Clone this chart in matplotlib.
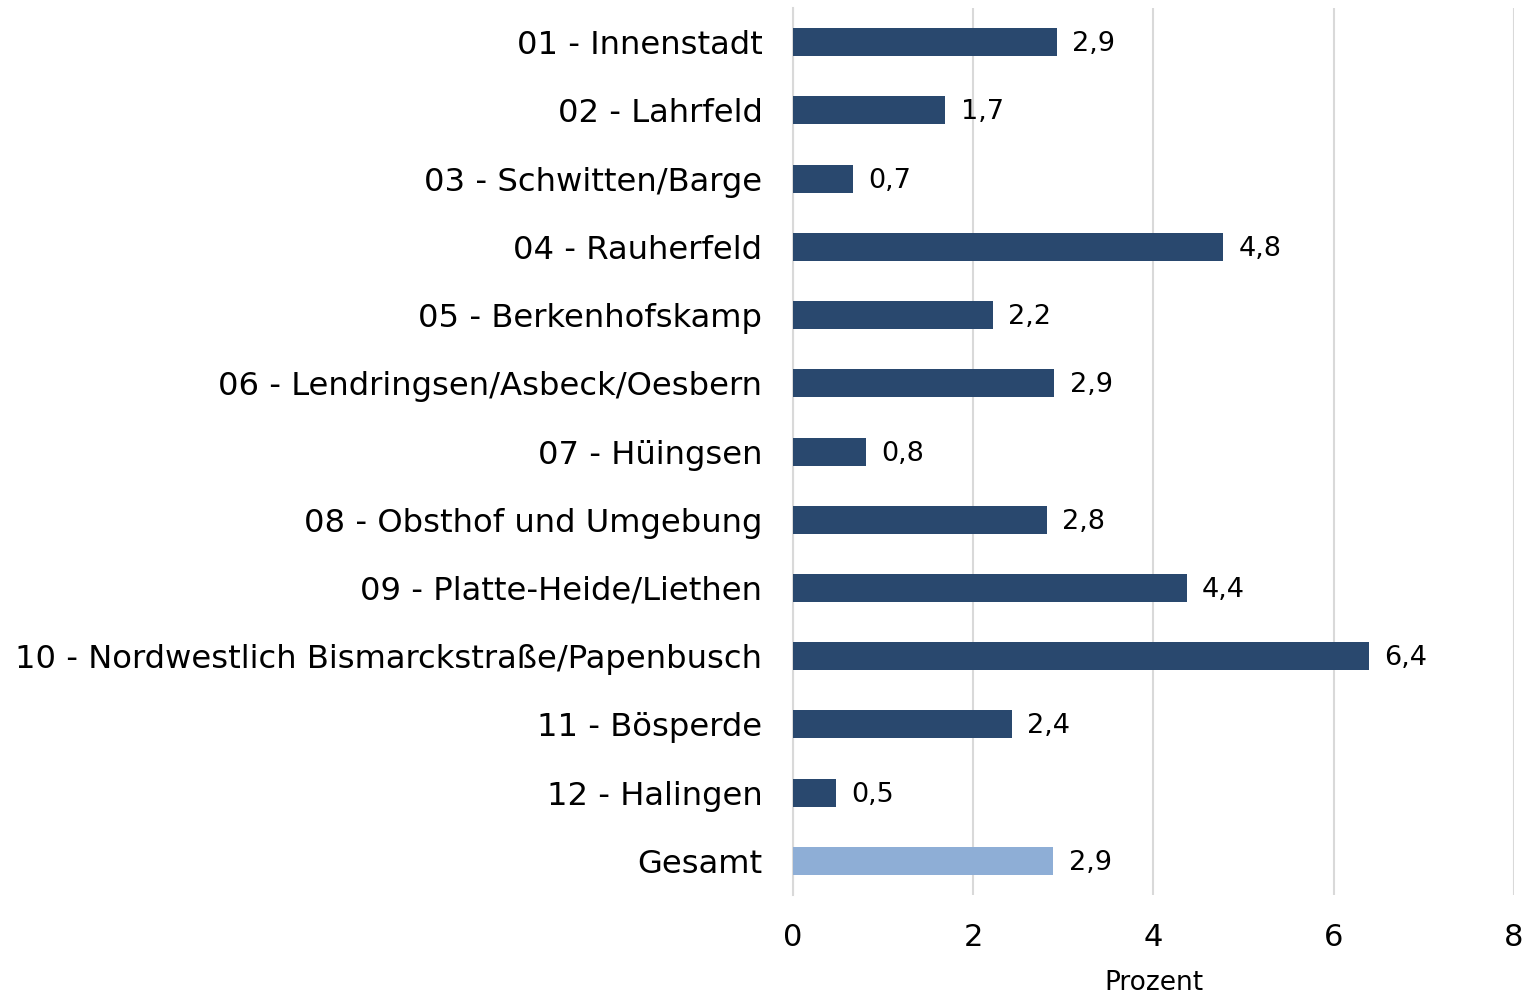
import matplotlib.pyplot as plt

categories = [
    '01 - Innenstadt',
    '02 - Lahrfeld',
    '03 - Schwitten/Barge',
    '04 - Rauherfeld',
    '05 - Berkenhofskamp',
    '06 - Lendringsen/Asbeck/Oesbern',
    '07 - Hüingsen',
    '08 - Obsthof und Umgebung',
    '09 - Platte-Heide/Liethen',
    '10 - Nordwestlich Bismarckstraße/Papenbusch',
    '11 - Bösperde',
    '12 - Halingen',
    'Gesamt',
]
values = [2.93, 1.69, 0.67, 4.77, 2.22, 2.90, 0.81, 2.82, 4.37, 6.39, 2.43, 0.48, 2.89]
xticks = [0, 2, 4, 6, 8]

dark = '#29486e'
light = '#8eaed6'
colors = [dark] * (len(values) - 1) + [light]

fig = plt.figure(figsize=(15.27, 9.94), dpi=100)
ax = fig.add_axes([0.5193, 0.0996, 0.4722, 0.8923])

y = list(range(len(categories)))
ax.barh(y, values, height=0.41, color=colors, zorder=3)
for yi, v in zip(y, values):
    ax.text(v + 0.17, yi + 0.03, f'{v:.1f}'.replace('.', ','), va='center', ha='left',
            fontsize=19.5, color='black')

ax.set_ylim(len(categories) - 0.5, -0.5)
ax.set_xlim(0, 8)
ax.set_yticks(y)
ax.set_yticklabels(categories, fontsize=23.2)
ax.set_xticks(xticks)
ax.set_xticklabels([str(t) for t in xticks], fontsize=22)
ax.tick_params(axis='both', length=0)
ax.tick_params(axis='y', pad=22)
ax.tick_params(axis='x', pad=20)
ax.grid(axis='x', color='#d9d9d9', linewidth=1.5, zorder=0)
for s in ['top', 'right', 'bottom']:
    ax.spines[s].set_visible(False)
ax.spines['left'].set_color('#d9d9d9')
ax.spines['left'].set_linewidth(1.5)
ax.set_xlabel('Prozent', fontsize=19, labelpad=13)

fig.savefig('out.png', dpi=100)
